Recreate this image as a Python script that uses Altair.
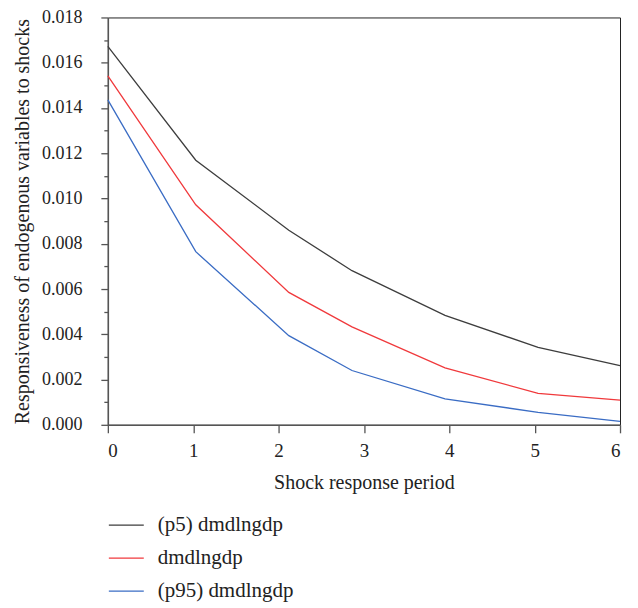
import altair as alt
import pandas as pd

periods = [0, 1.03, 2.12, 2.86, 3.95, 5.04, 6]
p5 = [0.01672, 0.01169, 0.00860, 0.00681, 0.00484, 0.00342, 0.00262]
mid = [0.01542, 0.00972, 0.00585, 0.00433, 0.00252, 0.00139, 0.00109]
p95 = [0.01436, 0.00765, 0.00394, 0.00240, 0.00115, 0.00055, 0.00015]
series_names = ["(p5) dmdlngdp", "dmdlngdp", "(p95) dmdlngdp"]
series_colors = ["#3d3d3d", "#f0393c", "#3a6cc4"]

rows = []
for name, vals in zip(series_names, [p5, mid, p95]):
    for x, v in zip(periods, vals):
        rows.append({"period": x, "value": v, "series": name})
df = pd.DataFrame(rows)

FONT = "Liberation Serif"

x_ticks = [i * 0.5 for i in range(13)]
y_ticks = [round(i * 0.001, 3) for i in range(19)]

chart = alt.Chart(df).mark_line(strokeWidth=1.3).encode(
    x=alt.X("period:Q",
            scale=alt.Scale(domain=[0, 6], nice=False),
            axis=alt.Axis(title="Shock response period", values=x_ticks,
                          labelExpr="datum.value % 1 === 0 ? datum.label : ''",
                          format="d",
                          tickSize={"condition": {"test": "datum.value % 1 === 0", "value": 8}, "value": 4},
                          labelPadding=9, titlePadding=12, grid=False)),
    y=alt.Y("value:Q",
            scale=alt.Scale(domain=[0, 0.018], nice=False),
            axis=alt.Axis(title="Responsiveness of endogenous variables to shocks",
                          values=y_ticks, format=".3f",
                          labelExpr="round(datum.value * 1000) % 2 === 0 ? datum.label : ''",
                          labelFontSize=18,
                          tickSize={"condition": {"test": "round(datum.value * 1000) % 2 === 0", "value": 7}, "value": 4},
                          labelPadding=19, titlePadding=9, grid=False)),
    color=alt.Color("series:N",
                    scale=alt.Scale(domain=series_names, range=series_colors),
                    sort=series_names,
                    legend=alt.Legend(title=None, orient="none", legendX=0, legendY=490,
                                      direction="vertical", symbolType="stroke",
                                      symbolSize=1225, symbolStrokeWidth=1.3,
                                      labelOffset=13, rowPadding=4,
                                      labelFont=FONT, labelFontSize=21, labelColor="#222")),
).properties(
    width=513, height=408,
    autosize=alt.AutoSizeParams(type="none"),
    padding={"left": 100, "top": 9, "right": 10, "bottom": 183},
).configure_view(
    stroke="#222", strokeWidth=1
).configure_axis(
    labelFont=FONT, titleFont=FONT, labelFontSize=19, titleFontSize=20,
    labelColor="#222", titleColor="#222", titleFontWeight="normal",
    domainColor="#555", domainWidth=1.5, tickColor="#555", tickWidth=1.3,
)

chart.save("out.html", embed_options={"renderer": "svg", "actions": False})
